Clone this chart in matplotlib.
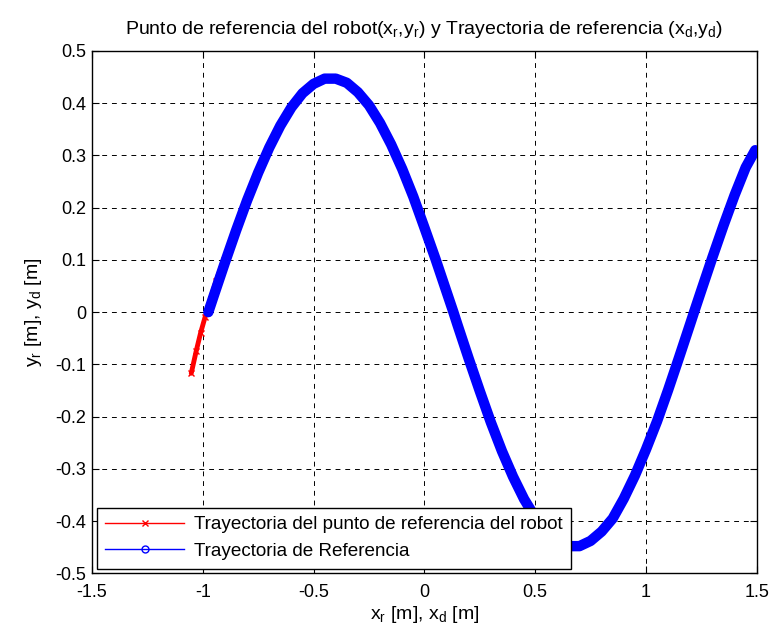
import matplotlib
matplotlib.use("Agg")
import matplotlib.pyplot as plt
from matplotlib.lines import Line2D

plt.rcParams['font.family'] = ['Liberation Sans', 'DejaVu Sans']
plt.rcParams['mathtext.fontset'] = 'custom'
plt.rcParams['mathtext.rm'] = 'Liberation Sans'
plt.rcParams['mathtext.default'] = 'regular'

# Reference trajectory (x_d, y_d)
xd = [-0.975, -0.95, -0.90, -0.85, -0.80, -0.75, -0.70, -0.65, -0.60, -0.55,
      -0.50, -0.45, -0.40, -0.35, -0.30, -0.25, -0.20, -0.15, -0.10, -0.05,
      0.00, 0.05, 0.10, 0.131, 0.15, 0.20, 0.25, 0.30, 0.35, 0.40,
      0.45, 0.50, 0.55, 0.60, 0.65, 0.70, 0.75, 0.80, 0.85, 0.90,
      0.95, 1.00, 1.05, 1.10, 1.15, 1.20, 1.217, 1.25, 1.30, 1.35,
      1.40, 1.45, 1.493]
yd = [0.0, 0.032, 0.095, 0.156, 0.214, 0.267, 0.315, 0.357, 0.392, 0.419,
      0.437, 0.447, 0.447, 0.439, 0.421, 0.396, 0.362, 0.321, 0.274, 0.221,
      0.162, 0.102, 0.039, 0.0, -0.025, -0.089, -0.151, -0.211, -0.266, -0.315,
      -0.358, -0.393, -0.420, -0.439, -0.448, -0.448, -0.438, -0.420, -0.395, -0.357,
      -0.313, -0.263, -0.209, -0.149, -0.086, -0.022, 0.0, 0.042, 0.105, 0.166,
      0.224, 0.277, 0.31]

# Robot reference point trajectory (x_r, y_r): initial approach, then follows reference
xr_start = [-1.052, -1.03, -1.01, -0.99, -0.965, -0.94, -0.905]
yr_start = [-0.117, -0.075, -0.04, -0.01, 0.025, 0.06, 0.1]
xr = xr_start + xd[3:]
yr = yr_start + yd[3:]

title = r'Punto de referencia del robot(x$_{r}$,y$_{r}$) y Trayectoria de referencia (x$_{d}$,y$_{d}$)'
xlabel = r'x$_{r}$ [m], x$_{d}$ [m]'
ylabel = r'y$_{r}$ [m], y$_{d}$ [m]'
labels = ['Trayectoria del punto de referencia del robot', 'Trayectoria de Referencia']
xticks = [-1.5, -1, -0.5, 0, 0.5, 1, 1.5]
yticks = [-0.5, -0.4, -0.3, -0.2, -0.1, 0, 0.1, 0.2, 0.3, 0.4, 0.5]

fig = plt.figure(figsize=(7.73, 6.37), dpi=100)
ax = fig.add_axes([0.119, 0.100, 0.860, 0.820])

ax.plot(xr, yr, color='red', lw=3.5, solid_capstyle='round', solid_joinstyle='round', zorder=3)
ax.plot(xr[:7], yr[:7], color='red', lw=0, marker='x', ms=4, mew=1, zorder=3)
ax.plot(xd, yd, color='blue', lw=7.5, solid_capstyle='round', solid_joinstyle='round', zorder=4)

ax.set_xlim(-1.5, 1.5)
ax.set_ylim(-0.5, 0.5)
ax.set_xticks(xticks)
ax.set_xticklabels(['-1.5', '-1', '-0.5', '0', '0.5', '1', '1.5'])
ax.set_yticks(yticks)
ax.set_yticklabels(['-0.5', '-0.4', '-0.3', '-0.2', '-0.1', '0', '0.1', '0.2', '0.3', '0.4', '0.5'])
ax.tick_params(direction='in', top=True, right=True, labelsize=13, length=5, width=0.8)
ax.tick_params(axis='x', pad=8)
ax.tick_params(axis='y', pad=4)
ax.grid(True, color='black', linestyle=(0, (5, 5)), linewidth=0.7)
for s in ax.spines.values():
    s.set_linewidth(1.0)

ax.set_title(title, fontsize=14, pad=12)
ax.set_xlabel(xlabel, fontsize=14, labelpad=2)
ax.set_ylabel(ylabel, fontsize=14, labelpad=8)

handles = [Line2D([], [], color='red', lw=1, marker='x', ms=4, mew=1),
           Line2D([], [], color='blue', lw=1, marker='o', ms=5, mfc='none', mew=1)]
leg = ax.legend(handles, labels, loc='lower left', bbox_to_anchor=(0.007, 0.009),
                fontsize=13.6, numpoints=1, handlelength=4.2, fancybox=False,
                framealpha=1, edgecolor='black', borderpad=0.45, labelspacing=0.5,
                handletextpad=0.5, borderaxespad=0)
leg.get_frame().set_linewidth(1.0)
leg.set_zorder(10)

fig.savefig('out.png', dpi=100)
